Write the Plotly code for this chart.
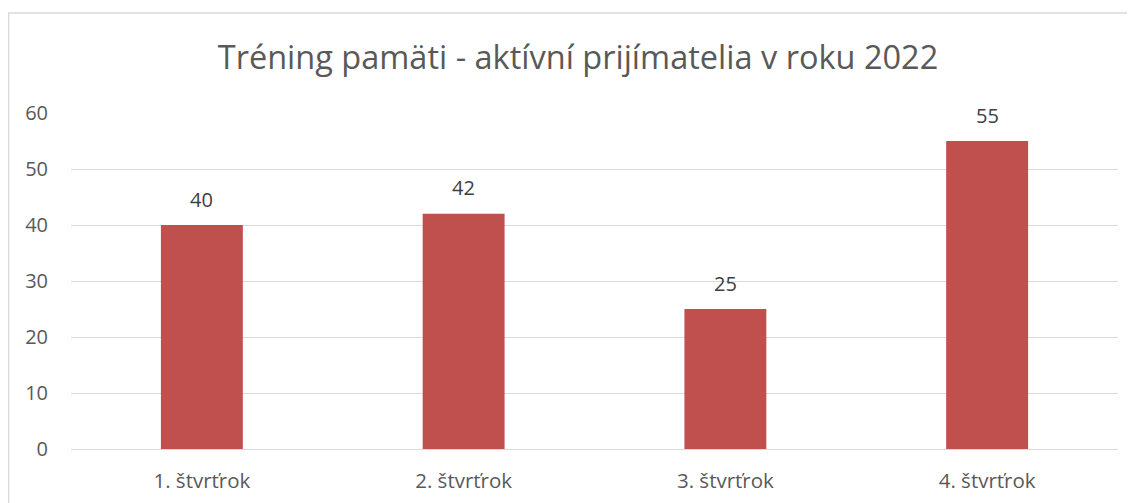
import plotly.graph_objects as go

categories = ["1. štvrťrok", "2. štvrťrok", "3. štvrťrok", "4. štvrťrok"]
values = [40, 42, 25, 55]
y_ticks = [0, 10, 20, 30, 40, 50, 60]
title_text = "Tréning pamäti - aktívní prijímatelia v roku 2022"

W, H = 1135, 503
ml, mr, mt, mb = 63, 25, 105, 62
ph = H - mt - mb
pw = W - ml - mr

fig = go.Figure(go.Bar(
    x=categories, y=values,
    marker=dict(color="#C0504D", line=dict(width=0)),
    hoverinfo="x+y",
))

for c, v in zip(categories, values):
    fig.add_annotation(x=c, y=v, text=str(v), showarrow=False, yanchor="middle", yshift=26,
                       font=dict(family="Open Sans", size=20, color="#404040"))

fig.update_layout(
    width=W, height=H,
    margin=dict(l=ml, r=mr, t=mt, b=mb),
    paper_bgcolor="white", plot_bgcolor="white",
    bargap=0.687,
    showlegend=False,
    title=dict(text=title_text, x=570 / W, xanchor="center", y=1 - 50 / H, yanchor="middle",
               font=dict(family="Open Sans", size=32.5, color="#595959")),
    xaxis=dict(showgrid=False, showline=False, ticks="", zeroline=False,
               ticklabelstandoff=17,
               tickfont=dict(family="Open Sans", size=20.5, color="#595959")),
    yaxis=dict(range=[0, 60], tickvals=y_ticks, showgrid=True, gridcolor="#D9D9D9", gridwidth=1.3,
               zeroline=True, zerolinecolor="#D9D9D9", zerolinewidth=1.3, showline=False, ticks="",
               ticklabelstandoff=22,
               tickfont=dict(family="Open Sans", size=20, color="#595959")),
    font=dict(family="Open Sans"),
)

fig.add_shape(type="rect", xref="paper", yref="paper",
              x0=(0.7 - ml) / pw, x1=(W + 10 - ml) / pw,
              y0=(H - mb - (H + 10)) / ph, y1=(H - mb - 5) / ph,
              line=dict(color="#D9D9D9", width=1.3), fillcolor="rgba(0,0,0,0)", layer="below")

fig.write_html("out.html")
